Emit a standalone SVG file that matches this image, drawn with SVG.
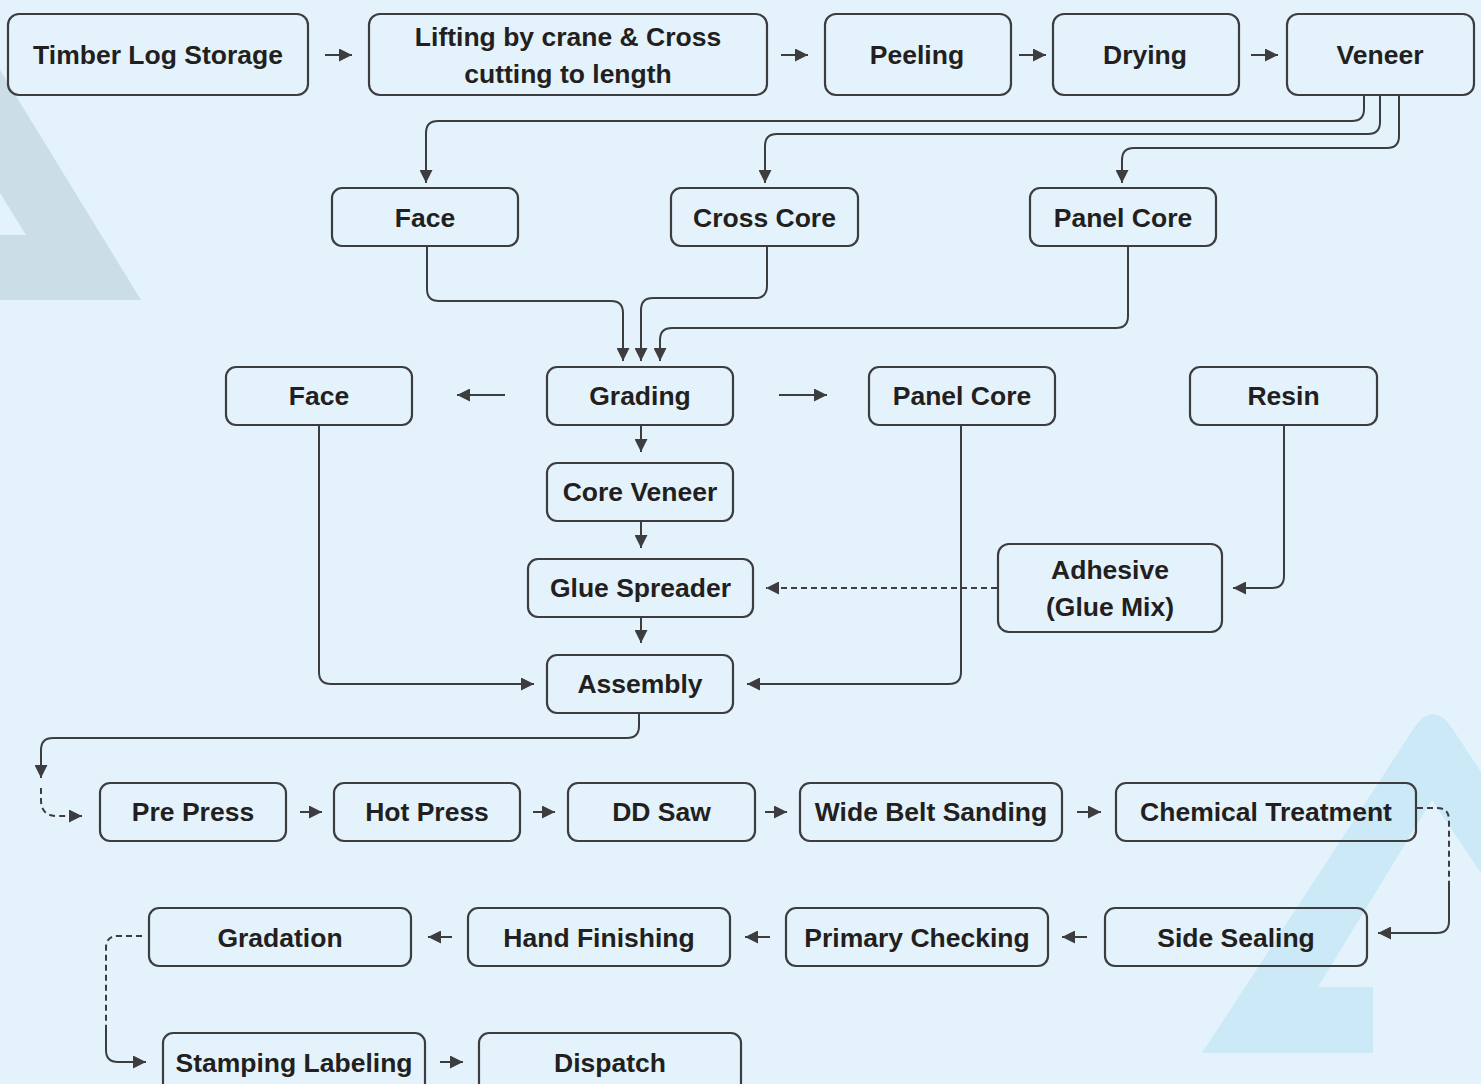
<svg xmlns="http://www.w3.org/2000/svg" width="1481" height="1084" viewBox="0 0 1481 1084">
<style>
.box{fill:none;stroke:#3d3d40;stroke-width:2.2}
.t{font-family:"Liberation Sans",Arial,sans-serif;font-weight:bold;font-size:26.5px;fill:#231f20;text-anchor:middle}
.c{fill:none;stroke:#3d3d40;stroke-width:2}
.d{fill:none;stroke:#3d3d40;stroke-width:2;stroke-dasharray:6 4}
</style>
<defs>
<marker id="ah" markerUnits="userSpaceOnUse" markerWidth="13" markerHeight="13" refX="13" refY="6.5" orient="auto" viewBox="0 0 13 13">
<path d="M0,0 L13,6.5 L0,13 z" fill="#3d3d40"/>
</marker>
</defs>
<rect width="1481" height="1084" fill="#e4f3fb"/>
<g id="bg">
<path d="M0,70 L141,300 L0,300 Z M0,193 L0,235 L26,235 Z" fill="#cbdde6" fill-rule="evenodd"/>
<path d="M1202,1053 L1414,728 Q1433,700 1452,728 L1481,772 L1481,873 L1432,800 L1318,987 L1373,987 L1373,1053 Z" fill="#cbe9f6"/>
</g>
<g id="connectors">
<path class="c" d="M325,55 H352" marker-end="url(#ah)"/>
<path class="c" d="M781,55 H808" marker-end="url(#ah)"/>
<path class="c" d="M1019,55 H1046" marker-end="url(#ah)"/>
<path class="c" d="M1251,55 H1278" marker-end="url(#ah)"/>
<path class="c" d="M1364,95 V109 Q1364,121 1352,121 H438 Q426,121 426,133 V183" marker-end="url(#ah)"/>
<path class="c" d="M1380,95 V122 Q1380,134 1368,134 H777 Q765,134 765,146 V183" marker-end="url(#ah)"/>
<path class="c" d="M1399,95 V136 Q1399,148 1387,148 H1134 Q1122,148 1122,160 V183" marker-end="url(#ah)"/>
<path class="c" d="M427,246 V289 Q427,301 439,301 H611 Q623,301 623,313 V361" marker-end="url(#ah)"/>
<path class="c" d="M767,246 V286 Q767,298 755,298 H653 Q641,298 641,310 V361" marker-end="url(#ah)"/>
<path class="c" d="M1128,246 V316 Q1128,328 1116,328 H672 Q660,328 660,340 V361" marker-end="url(#ah)"/>
<path class="c" d="M505,395 H457" marker-end="url(#ah)"/>
<path class="c" d="M779,395 H827" marker-end="url(#ah)"/>
<path class="c" d="M641,425 V452" marker-end="url(#ah)"/>
<path class="c" d="M641,521 V548" marker-end="url(#ah)"/>
<path class="c" d="M641,617 V643" marker-end="url(#ah)"/>
<path class="c" d="M1284,425 V576 Q1284,588 1272,588 H1233" marker-end="url(#ah)"/>
<path class="d" d="M997,588 H766" marker-end="url(#ah)"/>
<path class="c" d="M961,425 V672 Q961,684 949,684 H747" marker-end="url(#ah)"/>
<path class="c" d="M319,425 V672 Q319,684 331,684 H534" marker-end="url(#ah)"/>
<path class="c" d="M639,713 V726 Q639,738 627,738 H53 Q41,738 41,750 V778" marker-end="url(#ah)"/>
<path class="d" d="M41,788 V800 Q41,816 57,816 H82" marker-end="url(#ah)"/>
<path class="c" d="M300,812 H322" marker-end="url(#ah)"/>
<path class="c" d="M533,812 H555" marker-end="url(#ah)"/>
<path class="c" d="M765,812 H787" marker-end="url(#ah)"/>
<path class="c" d="M1077,812 H1101" marker-end="url(#ah)"/>
<path class="d" d="M1417,808 H1437 Q1449,808 1449,820 V883"/>
<path class="c" d="M1449,883 V921 Q1449,933 1437,933 H1378" marker-end="url(#ah)"/>
<path class="c" d="M452,937 H428" marker-end="url(#ah)"/>
<path class="c" d="M770,937 H745" marker-end="url(#ah)"/>
<path class="c" d="M1087,937 H1062" marker-end="url(#ah)"/>
<path class="d" d="M142,936 H118 Q106,936 106,948 V1030"/>
<path class="c" d="M106,1030 V1050 Q106,1062 118,1062 H146" marker-end="url(#ah)"/>
<path class="c" d="M440,1062 H463" marker-end="url(#ah)"/>
</g>
<g id="n-timber"><rect class="box" x="8" y="14" width="300" height="81" rx="11"/><text class="t" x="158" y="64">Timber Log Storage</text></g>
<g id="n-lifting"><rect class="box" x="369" y="14" width="398" height="81" rx="11"/><text class="t" x="568" y="46">Lifting by crane &amp; Cross</text><text class="t" x="568" y="83">cutting to length</text></g>
<g id="n-peeling"><rect class="box" x="825" y="14" width="186" height="81" rx="11"/><text class="t" x="917" y="64">Peeling</text></g>
<g id="n-drying"><rect class="box" x="1053" y="14" width="186" height="81" rx="11"/><text class="t" x="1145" y="64">Drying</text></g>
<g id="n-veneer"><rect class="box" x="1287" y="14" width="187" height="81" rx="11"/><text class="t" x="1380" y="64">Veneer</text></g>
<g id="n-face1"><rect class="box" x="332" y="188" width="186" height="58" rx="10"/><text class="t" x="425" y="227">Face</text></g>
<g id="n-crosscore"><rect class="box" x="671" y="188" width="187" height="58" rx="10"/><text class="t" x="764.5" y="227">Cross Core</text></g>
<g id="n-panelcore1"><rect class="box" x="1030" y="188" width="186" height="58" rx="10"/><text class="t" x="1123" y="227">Panel Core</text></g>
<g id="n-face2"><rect class="box" x="226" y="367" width="186" height="58" rx="10"/><text class="t" x="319" y="405">Face</text></g>
<g id="n-grading"><rect class="box" x="547" y="367" width="186" height="58" rx="10"/><text class="t" x="640" y="405">Grading</text></g>
<g id="n-panelcore2"><rect class="box" x="869" y="367" width="186" height="58" rx="10"/><text class="t" x="962" y="405">Panel Core</text></g>
<g id="n-resin"><rect class="box" x="1190" y="367" width="187" height="58" rx="10"/><text class="t" x="1283.5" y="405">Resin</text></g>
<g id="n-coreveneer"><rect class="box" x="547" y="463" width="186" height="58" rx="10"/><text class="t" x="640" y="501">Core Veneer</text></g>
<g id="n-gluespreader"><rect class="box" x="528" y="559" width="225" height="58" rx="10"/><text class="t" x="640.5" y="597">Glue Spreader</text></g>
<g id="n-adhesive"><rect class="box" x="998" y="544" width="224" height="88" rx="11"/><text class="t" x="1110" y="579">Adhesive</text><text class="t" x="1110" y="616">(Glue Mix)</text></g>
<g id="n-assembly"><rect class="box" x="547" y="655" width="186" height="58" rx="10"/><text class="t" x="640" y="693">Assembly</text></g>
<g id="n-prepress"><rect class="box" x="100" y="783" width="186" height="58" rx="10"/><text class="t" x="193" y="821">Pre Press</text></g>
<g id="n-hotpress"><rect class="box" x="334" y="783" width="186" height="58" rx="10"/><text class="t" x="427" y="821">Hot Press</text></g>
<g id="n-ddsaw"><rect class="box" x="568" y="783" width="187" height="58" rx="10"/><text class="t" x="661.5" y="821">DD Saw</text></g>
<g id="n-widebelt"><rect class="box" x="800" y="783" width="262" height="58" rx="10"/><text class="t" x="931" y="821">Wide Belt Sanding</text></g>
<g id="n-chemical"><rect class="box" x="1116" y="783" width="300" height="58" rx="10"/><text class="t" x="1266" y="821">Chemical Treatment</text></g>
<g id="n-sidesealing"><rect class="box" x="1105" y="908" width="262" height="58" rx="10"/><text class="t" x="1236" y="947">Side Sealing</text></g>
<g id="n-primary"><rect class="box" x="786" y="908" width="262" height="58" rx="10"/><text class="t" x="917" y="947">Primary Checking</text></g>
<g id="n-hand"><rect class="box" x="468" y="908" width="262" height="58" rx="10"/><text class="t" x="599" y="947">Hand Finishing</text></g>
<g id="n-gradation"><rect class="box" x="149" y="908" width="262" height="58" rx="10"/><text class="t" x="280" y="947">Gradation</text></g>
<g id="n-stamping"><rect class="box" x="163" y="1033" width="262" height="60" rx="10"/><text class="t" x="294" y="1072">Stamping Labeling</text></g>
<g id="n-dispatch"><rect class="box" x="479" y="1033" width="262" height="60" rx="10"/><text class="t" x="610" y="1072">Dispatch</text></g>
</svg>
